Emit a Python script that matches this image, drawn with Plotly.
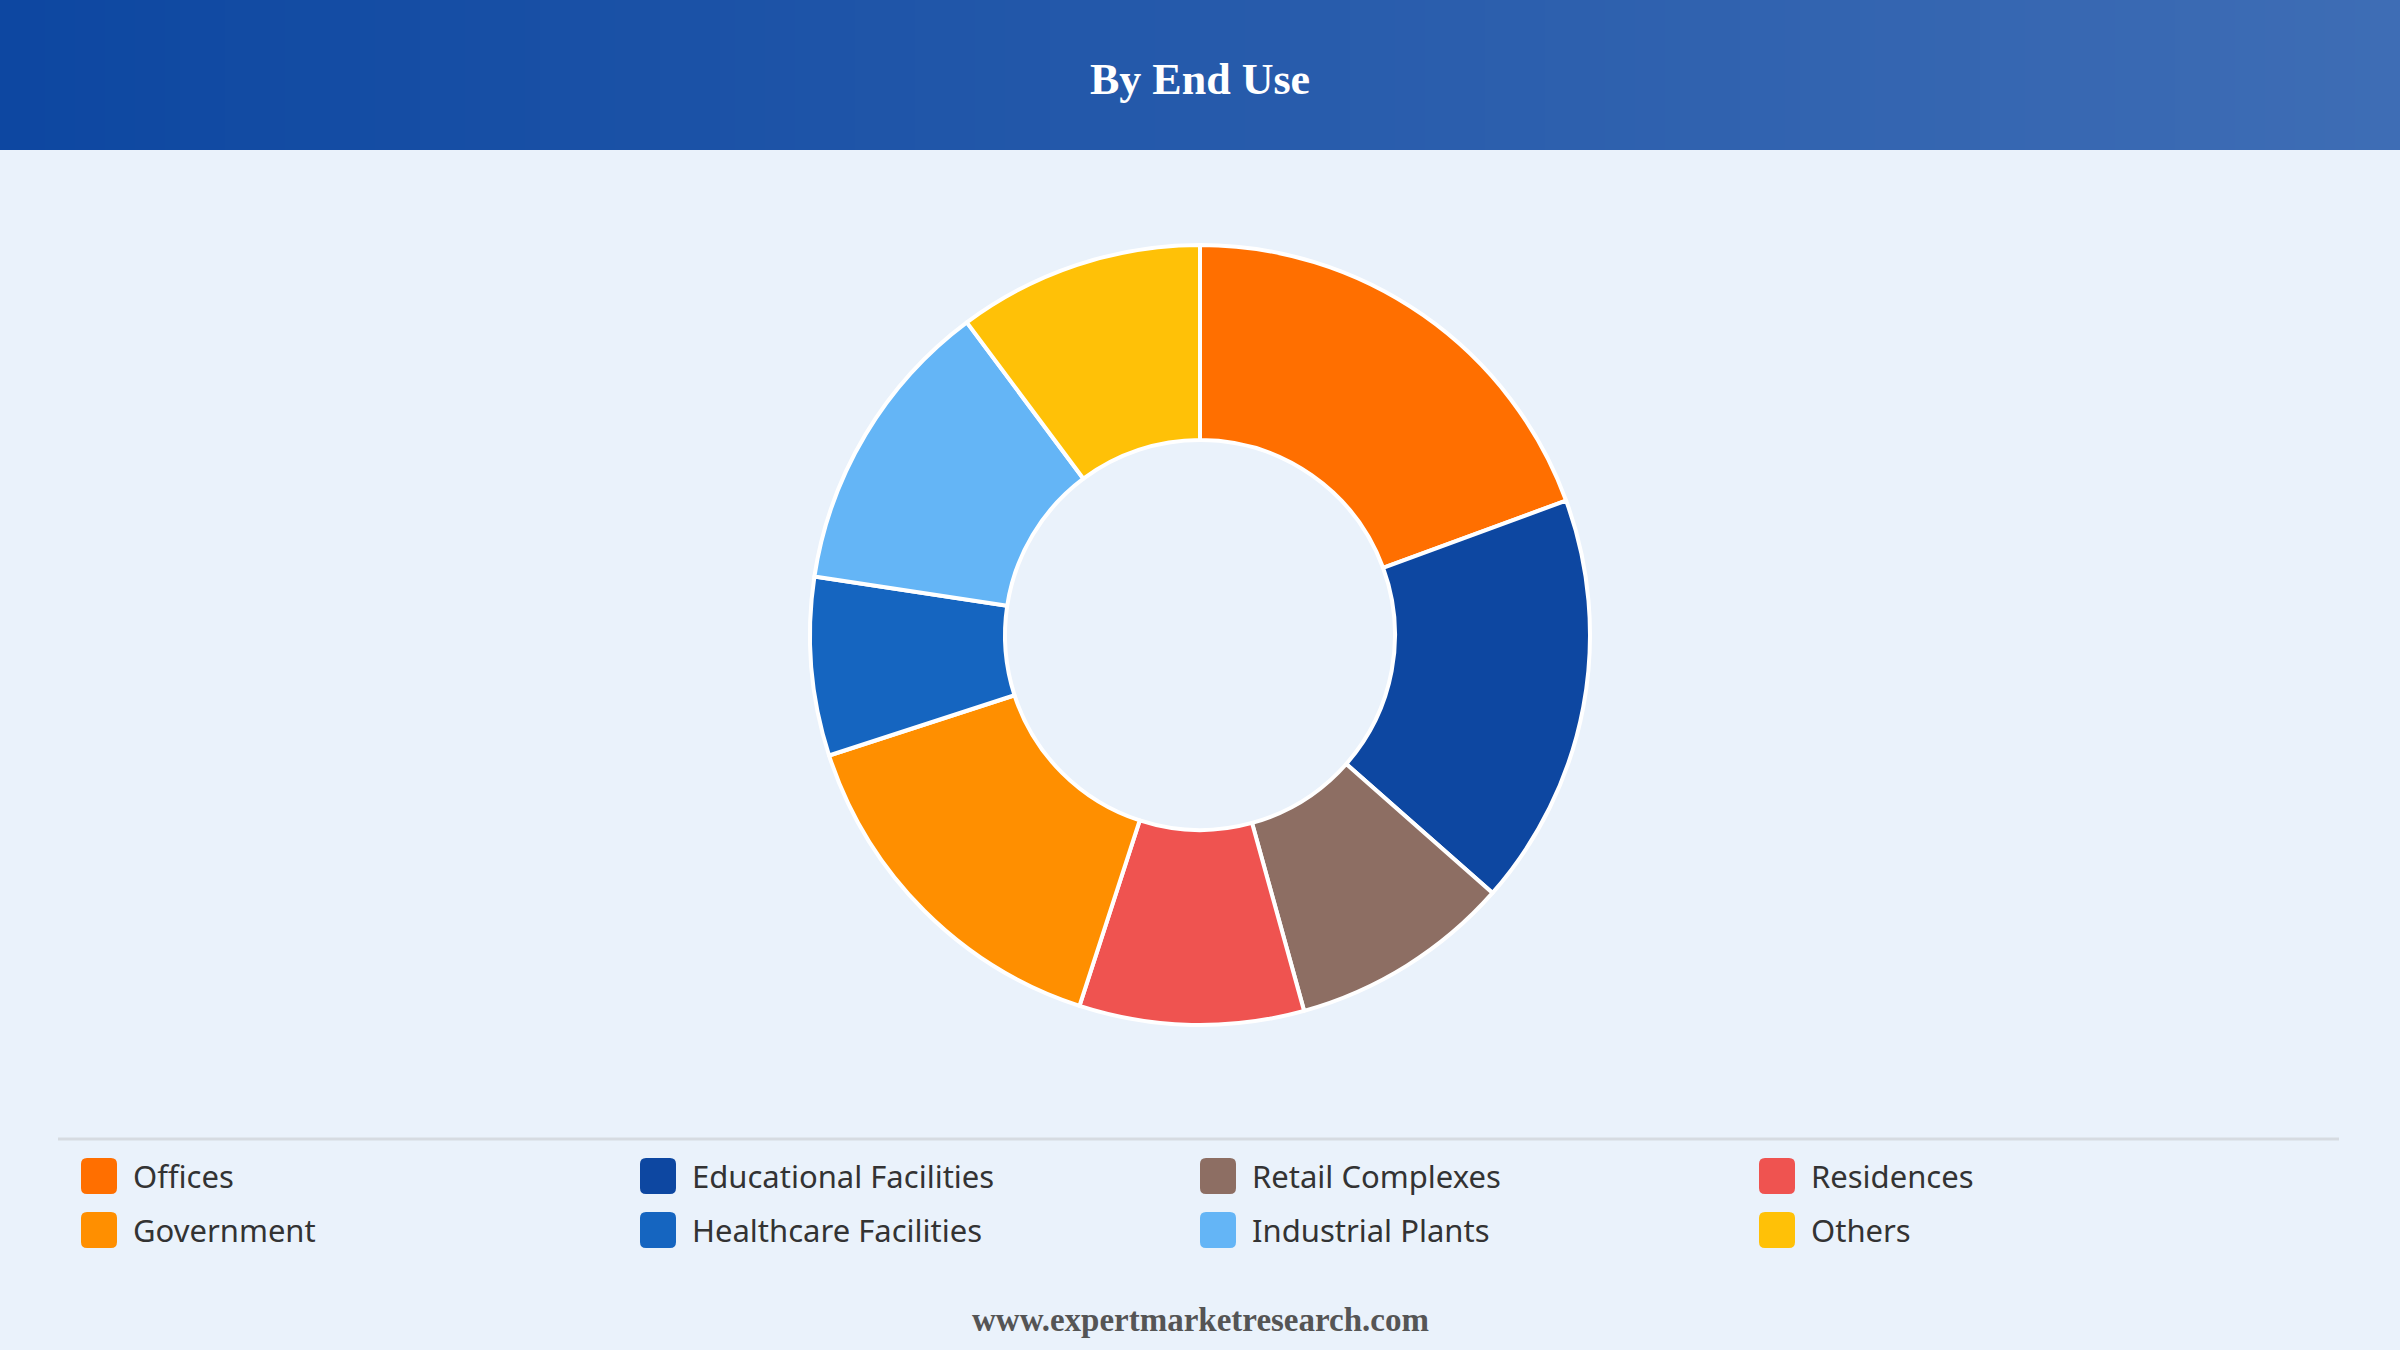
import plotly.graph_objects as go

W, H = 2400, 1350

# ---- data ----
categories = ["Offices", "Educational Facilities", "Retail Complexes", "Residences",
              "Government", "Healthcare Facilities", "Industrial Plants", "Others"]
shares = [19.4, 17.1, 9.2, 9.3, 15.0, 7.4, 12.4, 10.2]
colors = ["#FF6F00", "#0D47A1", "#8D6E63", "#EF5350",
          "#FF8F00", "#1565C0", "#64B5F6", "#FFC107"]
title_text = "By End Use"
footer_text = "www.expertmarketresearch.com"

BG = "#EAF2FB"


def px(x):
    return x / W


def py(y):
    return 1 - y / H


fig = go.Figure()

# pie: center (1200, 635), radius 390
fig.add_trace(go.Pie(
    labels=categories,
    values=shares,
    marker=dict(colors=colors, line=dict(color="white", width=4)),
    hole=0.5,
    sort=False,
    direction="clockwise",
    rotation=0,
    textinfo="none",
    hoverinfo="label+percent",
    showlegend=False,
    domain=dict(x=[0, 1], y=[py(1025), py(245)]),
))

shapes = []
annotations = []

# header gradient band
c0 = (13, 71, 161)
c1 = (62, 109, 181)
n = 160
for i in range(n):
    t = i / (n - 1)
    col = tuple(round(c0[k] + (c1[k] - c0[k]) * t) for k in range(3))
    shapes.append(dict(type="rect", xref="paper", yref="paper",
                       x0=i / n, x1=(i + 1) / n + 0.001, y0=py(150), y1=1,
                       fillcolor="rgb(%d,%d,%d)" % col, line=dict(width=0), layer="below"))

annotations.append(dict(text="<b>%s</b>" % title_text, x=0.5, y=py(80), xref="paper", yref="paper",
                        showarrow=False, xanchor="center", yanchor="middle",
                        font=dict(family="Liberation Serif", size=44, color="white")))

# legend separator
shapes.append(dict(type="line", xref="paper", yref="paper", x0=px(58), x1=px(2339),
                   y0=py(1139), y1=py(1139), line=dict(color="#D6DBE1", width=3)))

# legend (4 columns x 2 rows)
col_x = [81, 640, 1200, 1759]
row_y = [1176, 1230]
sw = 36
r = 6
for i, (lab, colr) in enumerate(zip(categories, colors)):
    cx = col_x[i % 4]
    cy = row_y[i // 4]
    x0, x1 = cx, cx + sw
    y0, y1 = cy - sw / 2, cy + sw / 2
    pts = (f"M {px(x0 + r)},{py(y0)} L {px(x1 - r)},{py(y0)} "
           f"Q {px(x1)},{py(y0)} {px(x1)},{py(y0 + r)} L {px(x1)},{py(y1 - r)} "
           f"Q {px(x1)},{py(y1)} {px(x1 - r)},{py(y1)} L {px(x0 + r)},{py(y1)} "
           f"Q {px(x0)},{py(y1)} {px(x0)},{py(y1 - r)} L {px(x0)},{py(y0 + r)} "
           f"Q {px(x0)},{py(y0)} {px(x0 + r)},{py(y0)} Z")
    shapes.append(dict(type="path", xref="paper", yref="paper", path=pts,
                       fillcolor=colr, line=dict(width=0)))
    annotations.append(dict(text=lab, x=px(cx + 50), y=py(cy), xref="paper", yref="paper",
                            showarrow=False, xanchor="left", yanchor="middle",
                            font=dict(family="Noto Sans", size=31, color="#333333")))

annotations.append(dict(text="<b>%s</b>" % footer_text, x=0.5, y=py(1320), xref="paper", yref="paper",
                        showarrow=False, xanchor="center", yanchor="middle",
                        font=dict(family="Liberation Serif", size=33, color="#555555")))

fig.update_layout(
    width=W, height=H,
    margin=dict(l=0, r=0, t=0, b=0),
    paper_bgcolor=BG, plot_bgcolor=BG,
    shapes=shapes, annotations=annotations,
    showlegend=False,
)

fig.write_html("out.html", config={"displayModeBar": False})
